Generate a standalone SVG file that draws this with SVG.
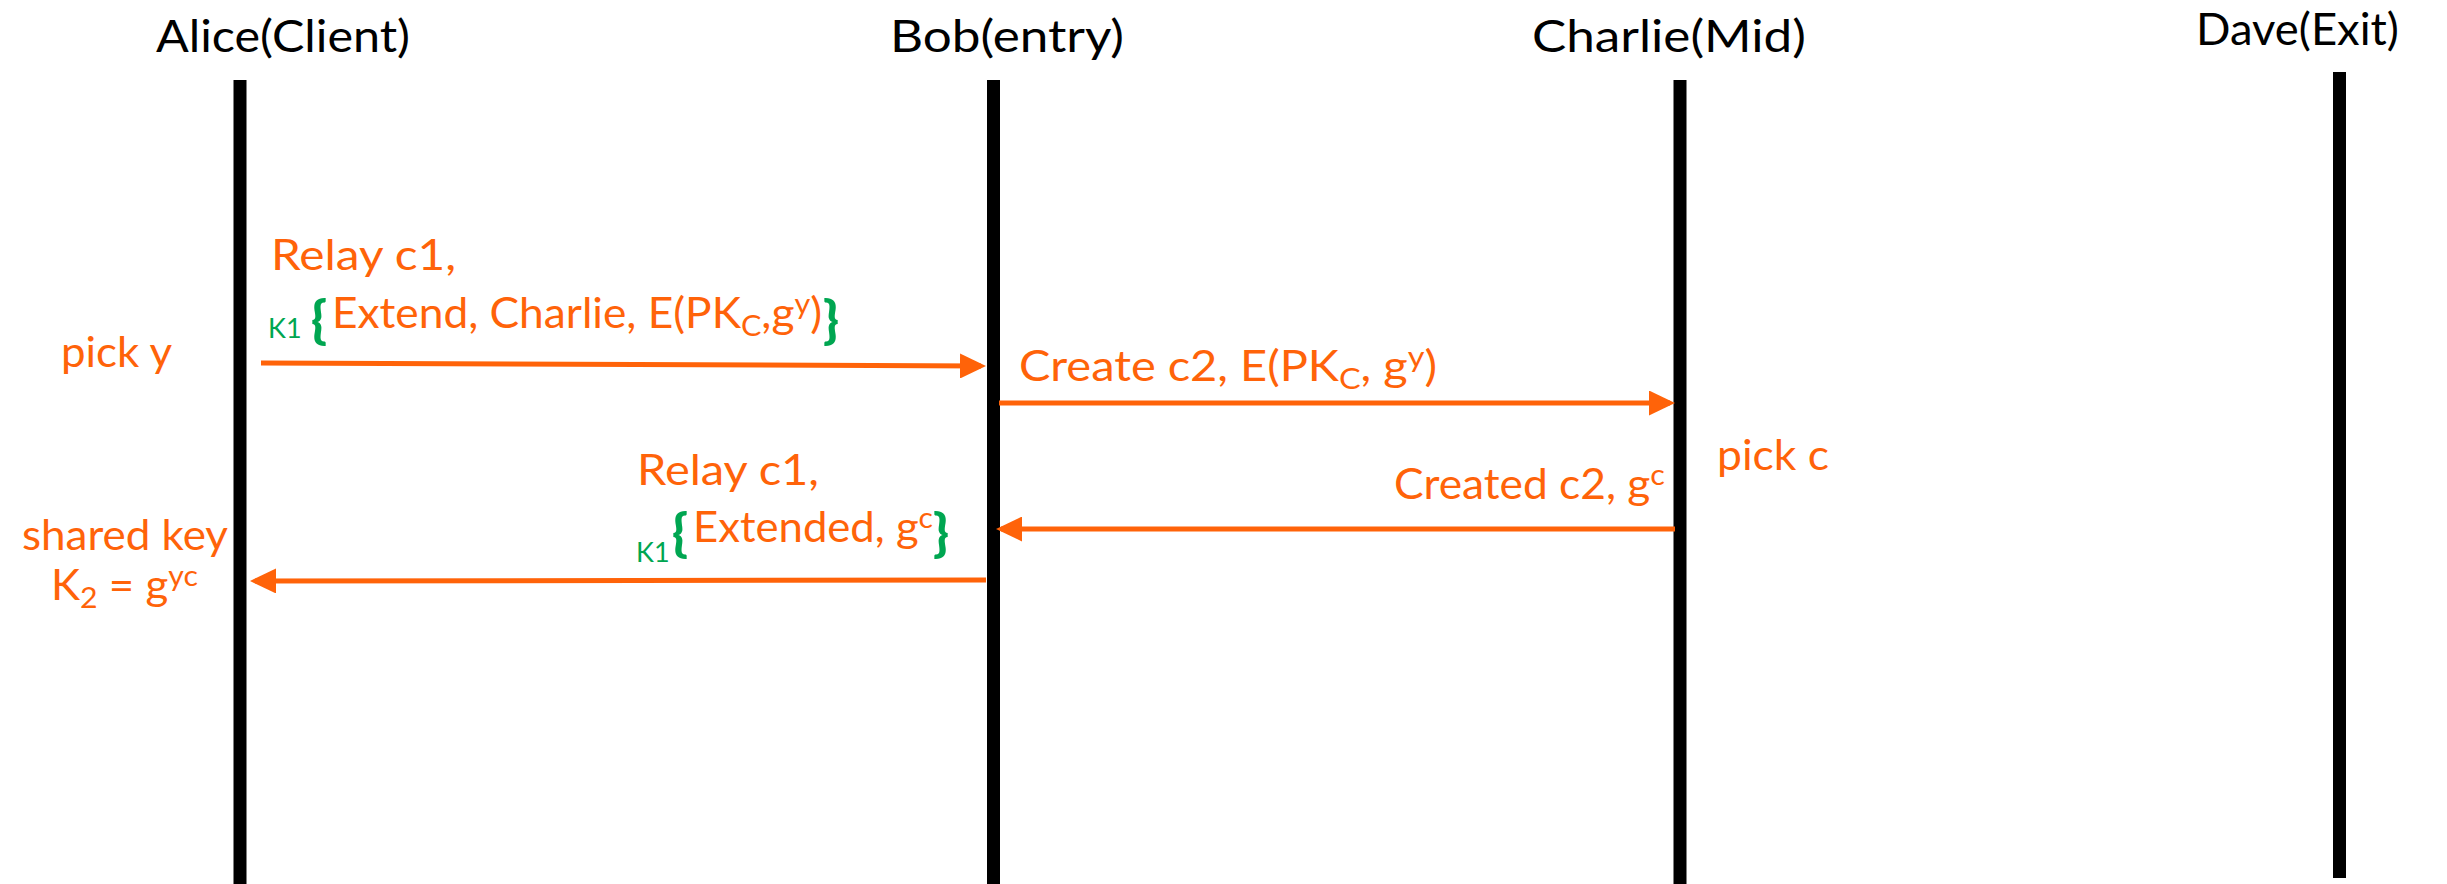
<svg xmlns="http://www.w3.org/2000/svg" width="2447" height="884" viewBox="0 0 2447 884">
  <style>
    .head { font-family: Lato, "Open Sans", sans-serif; font-size: 44px; fill: #000; }
    .lbl { font-family: Lato, "Open Sans", sans-serif; font-size: 42px; fill: #FF6309; }
    .key { font-family: Lato, "Open Sans", sans-serif; font-size: 27px; fill: #00A651; }
    .brace { font-family: Lato, "Open Sans", sans-serif; font-size: 52px; font-weight: 900; fill: #00A651; }
    .sub { font-size: 29px; }
    .life { stroke: #000; stroke-width: 13; }
    .msg { stroke: #FF6309; stroke-width: 5; fill: none; marker-end: url(#head); }
  </style>
  <defs>
    <marker id="head" viewBox="0 0 26 25" refX="21" refY="12.5" markerWidth="26" markerHeight="25" markerUnits="userSpaceOnUse" orient="auto">
      <path d="M0,0 L26,12.5 L0,25 Z" fill="#FF6309"/>
    </marker>
  </defs>
  <rect width="2447" height="884" fill="#fff"/>

  <!-- participants -->
  <g id="alice">
    <text class="head" x="156" y="52" textLength="254" lengthAdjust="spacingAndGlyphs">Alice(Client)</text>
    <line class="life" x1="240" y1="80" x2="240" y2="884"/>
  </g>
  <g id="bob">
    <text class="head" x="890" y="52" textLength="234" lengthAdjust="spacingAndGlyphs">Bob(entry)</text>
    <line class="life" x1="993.5" y1="80" x2="993.5" y2="884"/>
  </g>
  <g id="charlie">
    <text class="head" x="1532" y="52" textLength="274" lengthAdjust="spacingAndGlyphs">Charlie(Mid)</text>
    <line class="life" x1="1680" y1="80" x2="1680" y2="884"/>
  </g>
  <g id="dave">
    <text class="head" x="2196" y="45" textLength="203" lengthAdjust="spacingAndGlyphs">Dave(Exit)</text>
    <line class="life" x1="2339.5" y1="72" x2="2339.5" y2="878"/>
  </g>

  <!-- messages -->
  <g id="connectors">
    <line class="msg" x1="261" y1="363" x2="981" y2="366"/>
    <line class="msg" x1="999" y1="403" x2="1670" y2="403"/>
    <line class="msg" x1="1675" y1="529" x2="1001" y2="529"/>
    <line class="msg" x1="986" y1="580" x2="255" y2="581"/>
  </g>

  <!-- local notes -->
  <g id="note-pick-y">
    <text class="lbl" x="61" y="367" textLength="111" lengthAdjust="spacingAndGlyphs">pick y</text>
  </g>
  <g id="note-pick-c">
    <text class="lbl" x="1717" y="470" textLength="112" lengthAdjust="spacingAndGlyphs">pick c</text>
  </g>
  <g id="note-shared-key">
    <text class="lbl" x="22" y="550" textLength="206" lengthAdjust="spacingAndGlyphs">shared key</text>
    <text class="lbl" x="51" y="600" textLength="147" lengthAdjust="spacingAndGlyphs">K<tspan class="sub" dy="8">2</tspan><tspan dy="-8"> = g</tspan><tspan class="sub" dy="-14">yc</tspan></text>
  </g>

  <!-- message labels -->
  <g id="label-extend">
    <text class="lbl" x="271" y="270" textLength="185" lengthAdjust="spacingAndGlyphs">Relay c1,</text>
    <text class="key" x="268" y="338">K1</text>
    <text class="brace" x="311" y="337">{</text>
    <text class="lbl" x="332" y="328" textLength="490" lengthAdjust="spacingAndGlyphs">Extend, Charlie, E(PK<tspan class="sub" dy="8">C</tspan><tspan dy="-8">,g</tspan><tspan class="sub" dy="-14">y</tspan><tspan dy="14">)</tspan></text>
    <text class="brace" x="823" y="337">}</text>
  </g>
  <g id="label-create">
    <text class="lbl" x="1019" y="381" textLength="418" lengthAdjust="spacingAndGlyphs">Create c2, E(PK<tspan class="sub" dy="8">C</tspan><tspan dy="-8">, g</tspan><tspan class="sub" dy="-14">y</tspan><tspan dy="14">)</tspan></text>
  </g>
  <g id="label-created">
    <text class="lbl" x="1394" y="499" textLength="271" lengthAdjust="spacingAndGlyphs">Created c2, g<tspan class="sub" dy="-14">c</tspan></text>
  </g>
  <g id="label-extended">
    <text class="lbl" x="637" y="485" textLength="182" lengthAdjust="spacingAndGlyphs">Relay c1,</text>
    <text class="key" x="636" y="562">K1</text>
    <text class="brace" x="672" y="550">{</text>
    <text class="lbl" x="693" y="542" textLength="240" lengthAdjust="spacingAndGlyphs">Extended, g<tspan class="sub" dy="-14">c</tspan></text>
    <text class="brace" x="933" y="550">}</text>
  </g>
</svg>
